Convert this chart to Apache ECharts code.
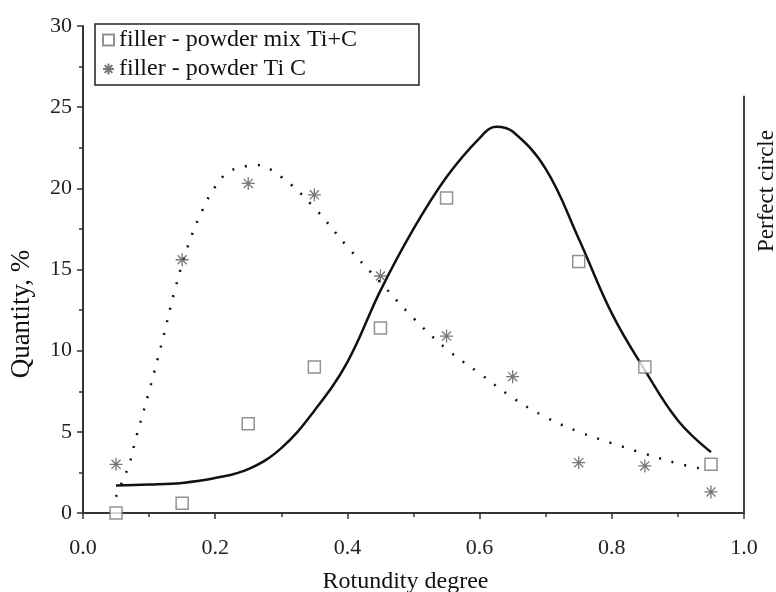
<!DOCTYPE html>
<html>
<head>
<meta charset="utf-8">
<script src="https://cdn.jsdelivr.net/npm/echarts@6/dist/echarts.min.js"></script>
<style>html,body{margin:0;padding:0;background:#fff}#c{width:776px;height:592px}</style>
</head>
<body>
<div id="c"></div>
<script>
// Measured points
var mixX = [0.05, 0.15, 0.25, 0.35, 0.45, 0.55, 0.75, 0.85, 0.95];
var mixY = [0.0, 0.6, 5.5, 9.0, 11.4, 19.4, 15.5, 9.0, 3.0];
var ticX = [0.05, 0.15, 0.25, 0.35, 0.45, 0.55, 0.65, 0.75, 0.85, 0.95];
var ticY = [3.0, 15.6, 20.3, 19.6, 14.6, 10.9, 8.4, 3.1, 2.9, 1.3];
// Fitted curves
var fitMixX = [0.05, 0.10, 0.15, 0.20, 0.25, 0.30, 0.35, 0.40, 0.45, 0.50, 0.55, 0.60, 0.625, 0.65, 0.70, 0.75, 0.80, 0.85, 0.90, 0.95];
var fitMixY = [1.7, 1.75, 1.85, 2.15, 2.7, 4.0, 6.3, 9.3, 13.7, 17.5, 20.7, 23.1, 23.8, 23.5, 21.2, 16.9, 12.3, 8.8, 5.7, 3.75];
var fitTicX = [0.05, 0.06, 0.07, 0.08, 0.10, 0.12, 0.14, 0.16, 0.18, 0.20, 0.22, 0.25, 0.26, 0.30, 0.35, 0.40, 0.45, 0.50, 0.55, 0.60, 0.65, 0.70, 0.75, 0.80, 0.85, 0.90, 0.94];
var fitTicY = [1.0, 2.0, 3.0, 4.6, 7.5, 10.6, 13.9, 16.6, 18.6, 20.1, 21.0, 21.4, 21.45, 20.7, 18.8, 16.4, 14.2, 12.0, 10.1, 8.6, 7.1, 5.9, 5.0, 4.3, 3.65, 3.05, 2.7];
// Perfect circle arrow (x, yTop, yBottom)
var arrowX = 1.0, arrowTop = 25.7, arrowBottom = 0;
var nameMix = 'filler - powder mix Ti+C';
var nameTic = 'filler - powder Ti C';
var xTicks = {min: 0, max: 1, interval: 0.2};
var yTicks = {min: 0, max: 30, interval: 5};

function zip(a, b) { return a.map(function (v, i) { return [v, b[i]]; }); }

var FONT = 'Liberation Serif';
var starPath = 'path://M5,0L5,10M0,5L10,5M1.5,1.5L8.5,8.5M8.5,1.5L1.5,8.5';

var chart = echarts.init(document.getElementById('c'));
chart.setOption({
  animation: false,
  backgroundColor: '#fff',
  grid: {left: 83, right: 32, top: 26, bottom: 79, containLabel: false, outerBoundsMode: 'none'},
  legend: {
    data: [nameMix, nameTic],
    orient: 'vertical',
    left: 95, top: 24,
    itemWidth: 11, itemHeight: 11, itemGap: 5,
    padding: [4, 62, 4, 7],
    borderColor: '#222', borderWidth: 1.5,
    textStyle: {fontFamily: FONT, fontSize: 24, color: '#111'}
  },
  xAxis: {
    type: 'value', min: xTicks.min, max: xTicks.max, interval: xTicks.interval,
    name: 'Rotundity degree', nameLocation: 'middle', nameGap: 57,
    nameTextStyle: {fontFamily: FONT, fontSize: 24, color: '#111', padding: [0, 16, 0, 0]},
    axisLine: {lineStyle: {color: '#333', width: 2}},
    axisTick: {length: 6, lineStyle: {color: '#333', width: 1.5}},
    minorTick: {show: true, splitNumber: 2, length: 4, lineStyle: {color: '#333', width: 1.5}},
    splitLine: {show: false},
    axisLabel: {fontFamily: FONT, fontSize: 22, color: '#222', margin: 24,
      formatter: function (v) { return v.toFixed(1); }}
  },
  yAxis: {
    type: 'value', min: yTicks.min, max: yTicks.max, interval: yTicks.interval,
    axisLine: {show: true, lineStyle: {color: '#333', width: 2}},
    axisTick: {show: true, length: 6, lineStyle: {color: '#333', width: 1.5}},
    minorTick: {show: true, splitNumber: 2, length: 4, lineStyle: {color: '#333', width: 1.5}},
    splitLine: {show: false},
    axisLabel: {fontFamily: FONT, fontSize: 22, color: '#222', margin: 11}
  },
  series: [
    {
      name: 'fitMix', type: 'line', smooth: 0.4, showSymbol: false, silent: true,
      data: zip(fitMixX, fitMixY),
      lineStyle: {color: '#111', width: 2.5}, z: 2
    },
    {
      name: 'fitTic', type: 'line', smooth: 0.4, showSymbol: false, silent: true,
      data: zip(fitTicX, fitTicY),
      lineStyle: {color: '#111', width: 2.5, type: [2, 11]}, z: 2,
      markLine: {
        silent: true, symbol: ['none', 'arrow'], symbolSize: [0, 9],
        label: {show: false},
        lineStyle: {color: '#444', width: 2, type: 'solid'},
        data: [[{coord: [arrowX, arrowTop]}, {coord: [arrowX, arrowBottom]}]]
      }
    },
    {
      name: nameMix, type: 'scatter', symbol: 'rect', symbolSize: 12,
      data: zip(mixX, mixY),
      itemStyle: {color: '#fff', borderColor: '#777', borderWidth: 1.5}, z: 3
    },
    {
      name: nameTic, type: 'scatter', symbol: starPath, symbolSize: 13,
      data: zip(ticX, ticY),
      itemStyle: {color: 'rgba(0,0,0,0)', borderColor: '#555', borderWidth: 1.3}, z: 3
    }
  ],
  graphic: [{
    type: 'text', x: 22, y: 314, rotation: Math.PI / 2,
    style: {text: 'Quantity, %', fill: '#111', font: '27px "Liberation Serif"',
      textAlign: 'center', textVerticalAlign: 'middle'}
  }, {
    type: 'text', x: 767, y: 191, rotation: Math.PI / 2,
    style: {text: 'Perfect circle', fill: '#111', font: '23px "Liberation Serif"',
      textAlign: 'center', textVerticalAlign: 'middle'}
  }]
});
</script>
</body>
</html>
